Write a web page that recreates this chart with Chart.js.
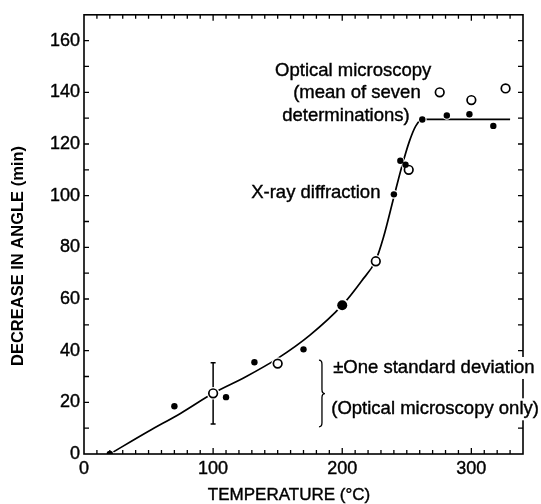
<!DOCTYPE html>
<html><head><meta charset="utf-8">
<script src="https://cdn.jsdelivr.net/npm/chart.js@4/dist/chart.umd.min.js"></script>
<style>html,body{margin:0;padding:0;background:#fff}#wrap{width:541px;height:504px}</style>
</head><body><div id="wrap"><canvas id="c" width="541" height="504"></canvas></div>
<script>
// X-ray diffraction points (small filled dots)
const xrayTemp  = [20, 70, 110, 132, 170, 240, 245, 249, 262, 281, 298.5, 317];
const xrayAngle = [0, 18.5, 22, 35.5, 40.5, 100.5, 113.5, 112, 129.5, 131, 131.5, 127];
// large filled dot
const bigTemp  = [200];
const bigAngle = [57.6];
// Optical microscopy (mean of seven determinations), open circles
const opticalTemp  = [100, 150, 226, 251.5, 275.5, 300, 326.5];
const opticalAngle = [23.5, 35, 74.6, 110, 140, 137, 141.5];
// error bar (+/- one standard deviation)
const errTemp = [100];
const errLow  = [11.6];
const errHigh = [35.3];
// fitted curve
const curveTemp  = [20, 50, 75, 100, 125, 150, 175, 200, 215, 226, 232, 240, 246, 252, 257, 262, 330];
const curveAngle = [0, 8.8, 15.8, 23.5, 29.8, 37, 46, 57.6, 67, 75, 84, 99.5, 111, 121, 127, 129.5, 129.5];
// tick labels
const xTickLabels = [0, 100, 200, 300];
const yTickLabels = [0, 20, 40, 60, 80, 100, 120, 140, 160];
// text
const xTitle = 'TEMPERATURE (\u00B0C)';
const yTitle = 'DECREASE IN ANGLE (min)';
const notes = [
  {text:'Optical microscopy', t:148, a:148.4},
  {text:'(mean of seven', t:162, a:139.9},
  {text:'determinations)', t:153.5, a:131},
  {text:'X-ray diffraction', t:129.5, a:100.9},
  {text:'\u00B1One standard deviation', t:193, a:33.3, mask:true},
  {text:'(Optical microscopy only)', t:191.5, a:17.3, mask:true}
];
const brace = {t:184.3, top:36.3, bottom:10.5};

const pts = (xs, ys) => xs.map((v, i) => ({x: v, y: ys[i]}));
const FONT = '"Liberation Sans", Arial, Helvetica, sans-serif';

const decor = {
  id: 'decor',
  beforeDatasetsDraw(chart) {
    const {ctx, scales: {x, y}} = chart;
    ctx.save();
    ctx.strokeStyle = '#000'; ctx.lineWidth = 1.5;
    errTemp.forEach((t, i) => {
      const px = x.getPixelForValue(t), top = y.getPixelForValue(errHigh[i]), bot = y.getPixelForValue(errLow[i]);
      ctx.beginPath();
      ctx.moveTo(px, top); ctx.lineTo(px, bot);
      ctx.moveTo(px - 2.5, top); ctx.lineTo(px + 2.5, top);
      ctx.moveTo(px - 2.5, bot); ctx.lineTo(px + 2.5, bot);
      ctx.stroke();
    });
    ctx.restore();
  },
  afterDraw(chart) {
    const {ctx, chartArea: ca, scales: {x, y}} = chart;
    ctx.save();
    ctx.strokeStyle = '#000'; ctx.fillStyle = '#000';
    // box
    ctx.lineWidth = 1.6;
    ctx.strokeRect(ca.left, ca.top, ca.right - ca.left, ca.bottom - ca.top);
    // inward ticks
    ctx.lineWidth = 1.3;
    ctx.beginPath();
    for (let v = 10; v < x.max; v += 10) {
      const px = x.getPixelForValue(v);
      const len = (v % 100 === 0) ? 6 : 4;
      ctx.moveTo(px, ca.bottom); ctx.lineTo(px, ca.bottom - len);
      ctx.moveTo(px, ca.top); ctx.lineTo(px, ca.top + len);
    }
    for (let v = 10; v < y.max; v += 10) {
      const py = y.getPixelForValue(v);
      ctx.moveTo(ca.left, py); ctx.lineTo(ca.left + 5, py);
      ctx.moveTo(ca.right, py); ctx.lineTo(ca.right - 5, py);
    }
    ctx.stroke();
    // brace
    const bx = x.getPixelForValue(brace.t), bt = y.getPixelForValue(brace.top), bb = y.getPixelForValue(brace.bottom), bm = (bt + bb) / 2;
    ctx.lineWidth = 1.3;
    ctx.beginPath();
    ctx.moveTo(bx - 3, bt);
    ctx.quadraticCurveTo(bx, bt, bx, bt + 4);
    ctx.lineTo(bx, bm - 4);
    ctx.quadraticCurveTo(bx, bm, bx + 3, bm);
    ctx.quadraticCurveTo(bx, bm, bx, bm + 4);
    ctx.lineTo(bx, bb - 4);
    ctx.quadraticCurveTo(bx, bb, bx - 3, bb);
    ctx.stroke();
    // notes
    ctx.font = '18.5px ' + FONT;
    ctx.textAlign = 'left'; ctx.textBaseline = 'middle';
    ctx.lineWidth = 0.4;
    notes.forEach(n => {
      const px = x.getPixelForValue(n.t), py = y.getPixelForValue(n.a);
      if (n.mask) {
        const w = ctx.measureText(n.text).width;
        ctx.fillStyle = '#fff';
        ctx.fillRect(px - 1, py - 11, w + 3, 22);
        ctx.fillStyle = '#000';
      }
      ctx.fillText(n.text, px, py);
      ctx.strokeText(n.text, px, py);
    });
    // axis titles
    ctx.font = '17px ' + FONT;
    ctx.textAlign = 'center';
    ctx.fillText(xTitle, 289, 495);
    ctx.strokeText(xTitle, 289, 495);
    ctx.save();
    ctx.translate(18.5, 256);
    ctx.rotate(-Math.PI / 2);
    ctx.font = 'bold 16.5px ' + FONT;
    ctx.fillText(yTitle, 0, 0);
    ctx.restore();
    ctx.restore();
  }
};

new Chart(document.getElementById('c'), {
  type: 'scatter',
  data: {
    datasets: [
      {label: 'X-ray diffraction', data: pts(xrayTemp, xrayAngle), pointRadius: 3.2, pointBackgroundColor: '#000', pointBorderWidth: 0, showLine: false},
      {label: 'large', data: pts(bigTemp, bigAngle), pointRadius: 5, pointBackgroundColor: '#000', pointBorderWidth: 0, showLine: false},
      {label: 'Optical microscopy', data: pts(opticalTemp, opticalAngle), pointRadius: 4.3, pointBackgroundColor: '#fff', pointBorderColor: '#000', pointBorderWidth: 1.7, showLine: false},
      {label: 'halo1', data: pts(xrayTemp, xrayAngle), pointRadius: 4.3, pointBackgroundColor: '#fff', pointBorderWidth: 0, showLine: false},
      {label: 'halo2', data: pts(opticalTemp, opticalAngle), pointRadius: 6.3, pointBackgroundColor: '#fff', pointBorderWidth: 0, showLine: false},
      {label: 'halo3', data: pts(bigTemp, bigAngle), pointRadius: 6.8, pointBackgroundColor: '#fff', pointBorderWidth: 0, showLine: false},
      {label: 'curve', data: pts(curveTemp, curveAngle), showLine: true, borderColor: '#000', borderWidth: 1.7, pointRadius: 0, cubicInterpolationMode: 'monotone', fill: false}
    ]
  },
  options: {
    responsive: false, animation: false, devicePixelRatio: 1,
    layout: {padding: {top: 14, right: 18, left: 0, bottom: 0}},
    plugins: {legend: {display: false}, tooltip: {enabled: false}},
    scales: {
      x: {
        type: 'linear', min: 0, max: 340,
        grid: {display: false, drawTicks: false}, border: {display: false},
        afterBuildTicks: s => { s.ticks = xTickLabels.map(v => ({value: v})); },
        afterFit: s => { s.height = 50; },
        ticks: {color: '#000', padding: 4, font: {family: FONT, size: 18}, maxRotation: 0, autoSkip: false, textStrokeColor: '#000', textStrokeWidth: 0.4}
      },
      y: {
        type: 'linear', min: 0, max: 170,
        grid: {display: false, drawTicks: false}, border: {display: false},
        afterBuildTicks: s => { s.ticks = yTickLabels.map(v => ({value: v})); },
        afterFit: s => { s.width = 84; },
        ticks: {color: '#000', padding: 4, font: {family: FONT, size: 18}, autoSkip: false, textStrokeColor: '#000', textStrokeWidth: 0.4}
      }
    }
  },
  plugins: [decor]
});
</script></body></html>
